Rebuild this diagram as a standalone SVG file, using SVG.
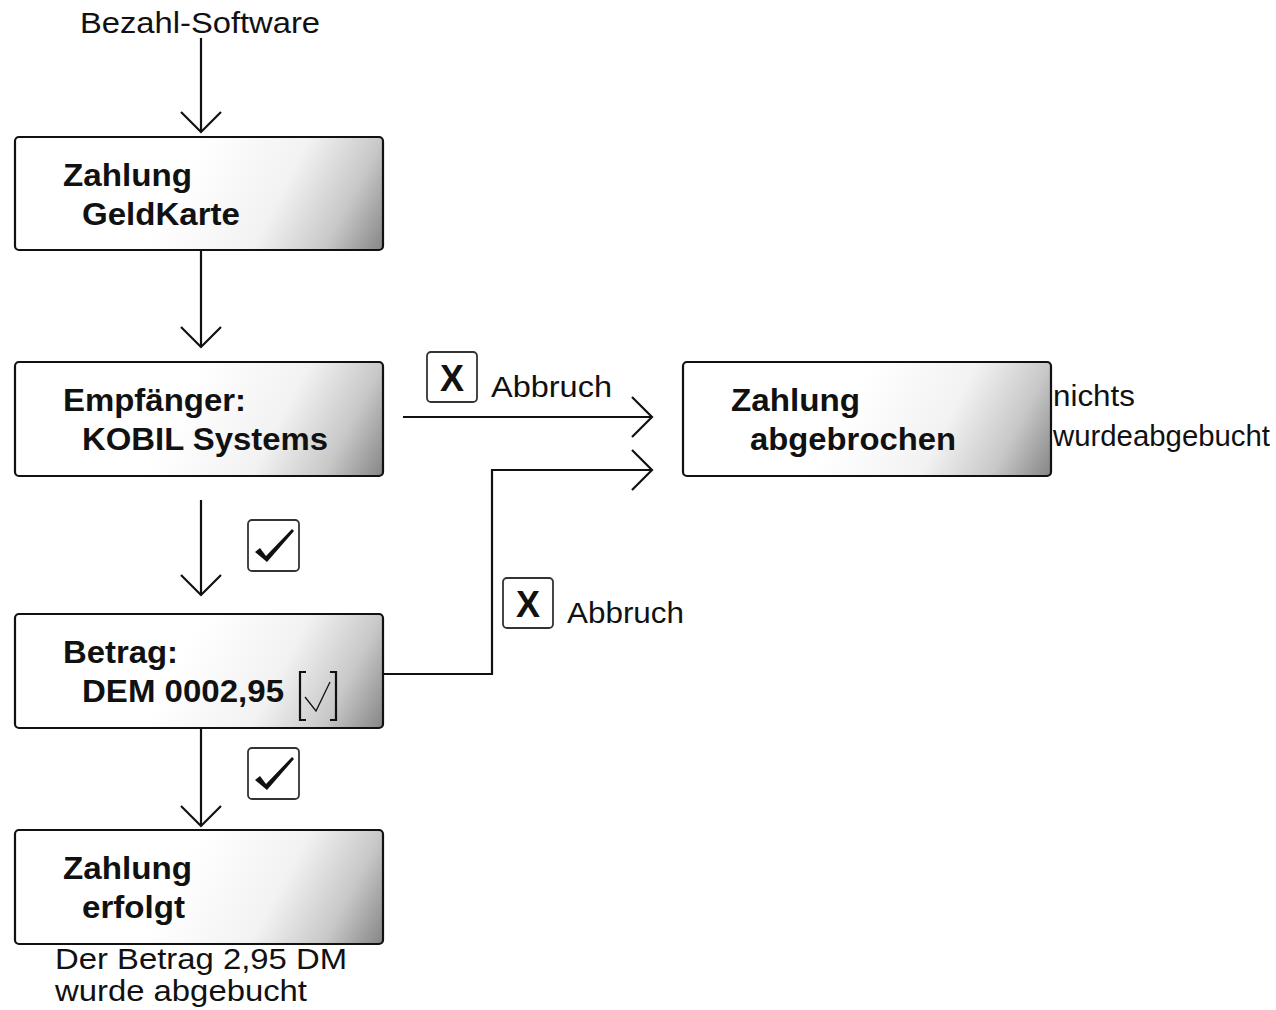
<svg xmlns="http://www.w3.org/2000/svg" width="1276" height="1010" viewBox="0 0 1276 1010">
<style>
.box{stroke:#111;stroke-width:2.2;fill:url(#g)}
.b{font-family:"Liberation Sans",Arial,sans-serif;font-weight:bold;font-size:32px;fill:#111}
.t{font-family:"Liberation Sans",Arial,sans-serif;font-size:29px;fill:#111}
.ln{stroke:#111;stroke-width:2.2;fill:none}
.ah{stroke:#111;stroke-width:2.2;fill:none}
.cb{stroke:#333;stroke-width:1.8;fill:#fff}
.ck{fill:#111}
.xg{font-family:"Liberation Sans",Arial,sans-serif;font-weight:bold;font-size:36px;fill:#111}
</style>
<defs>
<linearGradient id="g" gradientUnits="userSpaceOnUse" x1="180" y1="15" x2="368" y2="114">
<stop offset="0" stop-color="#ffffff"/>
<stop offset="0.45" stop-color="#f2f2f2"/>
<stop offset="0.75" stop-color="#c8c8c8"/>
<stop offset="1" stop-color="#858585"/>
</linearGradient>
</defs>
<rect width="1276" height="1010" fill="#fff"/>

<text class="t" x="80" y="33" textLength="240" lengthAdjust="spacingAndGlyphs">Bezahl-Software</text>

<g id="connectors">
<line class="ln" x1="201" y1="38" x2="201" y2="132"/>
<polyline class="ah" points="181,112 201,132 221,112"/>
<line class="ln" x1="201" y1="250" x2="201" y2="347"/>
<polyline class="ah" points="181,327 201,347 221,327"/>
<line class="ln" x1="201" y1="500" x2="201" y2="595"/>
<polyline class="ah" points="181,575 201,595 221,575"/>
<line class="ln" x1="201" y1="728" x2="201" y2="826"/>
<polyline class="ah" points="181,806 201,826 221,806"/>
<line class="ln" x1="403" y1="417" x2="652" y2="417"/>
<polyline class="ah" points="632,397 652,417 632,437"/>
<polyline class="ln" points="383,674 492,674 492,470 652,470"/>
<polyline class="ah" points="632,450 652,470 632,490"/>

<g id="abbruch1">
<rect class="cb" x="427" y="352" width="50" height="50" rx="4"/>
<text class="xg" x="452" y="391" text-anchor="middle">X</text>
<text class="t" x="491" y="397" textLength="121" lengthAdjust="spacingAndGlyphs">Abbruch</text>
</g>
<g id="abbruch2">
<rect class="cb" x="503" y="578" width="50" height="50" rx="4"/>
<text class="xg" x="528" y="617" text-anchor="middle">X</text>
<text class="t" x="567" y="623" textLength="117" lengthAdjust="spacingAndGlyphs">Abbruch</text>
</g>
<g id="ok1">
<rect class="cb" x="248" y="520" width="51" height="51" rx="4"/>
<path class="ck" d="M255,552 L260,548 L266,556 L292,529 L294,531 L267,562 Z"/>
</g>
<g id="ok2">
<rect class="cb" x="248" y="748" width="51" height="51" rx="4"/>
<path class="ck" d="M255,780 L260,776 L266,784 L292,757 L294,759 L267,790 Z"/>
</g>
</g>

<g id="n1" transform="translate(15,137)">
<rect class="box" x="0" y="0" width="368" height="113" rx="4"/>
<text class="b" x="48" y="49" textLength="129" lengthAdjust="spacingAndGlyphs">Zahlung</text>
<text class="b" x="67" y="88" textLength="158" lengthAdjust="spacingAndGlyphs">GeldKarte</text>
</g>

<g id="n2" transform="translate(15,362)">
<rect class="box" x="0" y="0" width="368" height="114" rx="4"/>
<text class="b" x="48" y="49" textLength="183" lengthAdjust="spacingAndGlyphs">Empfänger:</text>
<text class="b" x="67" y="88" textLength="246" lengthAdjust="spacingAndGlyphs">KOBIL Systems</text>
</g>

<g id="n3" transform="translate(15,614)">
<rect class="box" x="0" y="0" width="368" height="114" rx="4"/>
<text class="b" x="48" y="49" textLength="115" lengthAdjust="spacingAndGlyphs">Betrag:</text>
<text class="b" x="67" y="88" textLength="202" lengthAdjust="spacingAndGlyphs">DEM 0002,95</text>
<path class="ln" d="M291,58 L285,58 L285,106 L291,106 M315,58 L321,58 L321,106 L315,106" stroke-width="2.4"/>
<polyline points="290,83 301,97 315,68" fill="none" stroke="#111" stroke-width="1.3"/>
</g>

<g id="n4" transform="translate(15,830)">
<rect class="box" x="0" y="0" width="368" height="114" rx="4"/>
<text class="b" x="48" y="49" textLength="129" lengthAdjust="spacingAndGlyphs">Zahlung</text>
<text class="b" x="67" y="88" textLength="103" lengthAdjust="spacingAndGlyphs">erfolgt</text>
</g>
<text class="t" x="55" y="969" textLength="292" lengthAdjust="spacingAndGlyphs">Der Betrag 2,95 DM</text>
<text class="t" x="55" y="1001" textLength="252" lengthAdjust="spacingAndGlyphs">wurde abgebucht</text>

<g id="n5" transform="translate(683,362)">
<rect class="box" x="0" y="0" width="368" height="114" rx="4"/>
<text class="b" x="48" y="49" textLength="129" lengthAdjust="spacingAndGlyphs">Zahlung</text>
<text class="b" x="67" y="88" textLength="206" lengthAdjust="spacingAndGlyphs">abgebrochen</text>
</g>
<text class="t" x="1053" y="406" textLength="82" lengthAdjust="spacingAndGlyphs">nichts</text>
<text class="t" x="1053" y="446" textLength="217" lengthAdjust="spacingAndGlyphs">wurdeabgebucht</text>
</svg>
